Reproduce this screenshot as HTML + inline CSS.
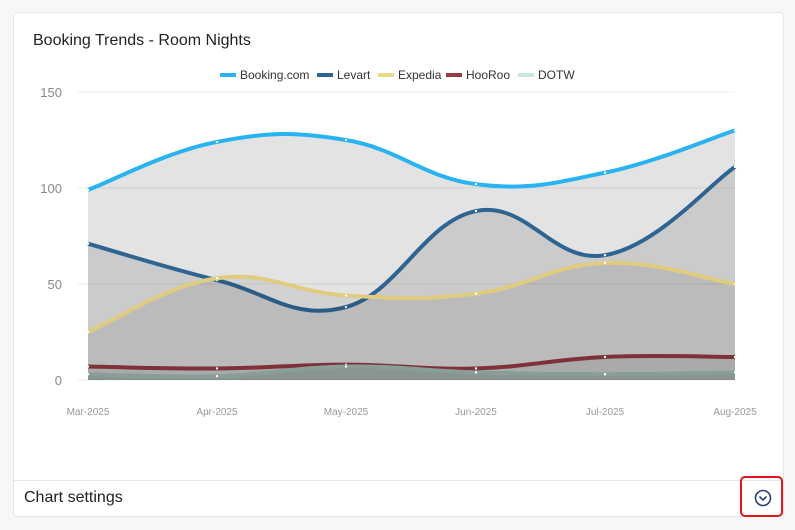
<!DOCTYPE html>
<html><head><meta charset="utf-8"><style>
body{margin:0;width:795px;height:530px;background:#f7f7f7;font-family:"Liberation Sans",sans-serif;overflow:hidden;position:relative}
.card{position:absolute;left:13px;top:12px;width:769px;height:503px;background:#fff;border:1px solid #e6e6e6;border-radius:4px}
.title{position:absolute;left:33px;top:32px;font-size:16px;color:#222}
.foot{position:absolute;left:13px;top:480px;width:771px;height:1px;background:#e6e6e6}
.cs{position:absolute;left:24px;top:489px;font-size:16px;color:#222}
.rb{position:absolute;left:740px;top:476px;width:43px;height:41px;border:2px solid #e8141b;border-radius:5px;box-sizing:border-box}
svg{position:absolute;left:0;top:0}
</style></head><body>
<div class="card"></div>
<div class="title">Booking Trends - Room Nights</div>
<div class="foot"></div>
<div class="cs">Chart settings</div>
<div class="rb"></div>
<svg width="795" height="530" id="s" font-family="Liberation Sans, sans-serif">
<g stroke="#ececec" stroke-width="1">
<line x1="78" y1="92" x2="735" y2="92"/><line x1="78" y1="188" x2="735" y2="188"/><line x1="78" y1="284" x2="735" y2="284"/><line x1="78" y1="380" x2="735" y2="380"/>
</g>
<g fill="#888" font-size="13" text-anchor="end">
<text x="62" y="97">150</text><text x="62" y="193">100</text><text x="62" y="289">50</text><text x="62" y="385">0</text>
</g>
<g fill="#999" font-size="10" text-anchor="middle">
<text x="88" y="415">Mar-2025</text><text x="217" y="415">Apr-2025</text><text x="346" y="415">May-2025</text><text x="476" y="415">Jun-2025</text><text x="605" y="415">Jul-2025</text><text x="735" y="415">Aug-2025</text>
</g>
<g font-size="12" fill="#333">
<rect x="220" y="73" width="16" height="4" fill="#29b3f0"/><text x="240" y="79">Booking.com</text>
<rect x="317" y="73" width="16" height="4" fill="#2e6491"/><text x="337" y="79">Levart</text>
<rect x="378" y="73" width="16" height="4" fill="#ecd98a"/><text x="398" y="79">Expedia</text>
<rect x="446" y="73" width="16" height="4" fill="#993a40"/><text x="466" y="79">HooRoo</text>
<rect x="518" y="73" width="16" height="4" fill="#c9e8e2"/><text x="538" y="79">DOTW</text>
</g>
<g id="series"></g>
<circle cx="763" cy="498" r="7.5" fill="none" stroke="#2a3d7a" stroke-width="1.6"/>
<path d="M759.5 496.5 L763 500 L766.5 496.5" fill="none" stroke="#2a3d7a" stroke-width="1.6"/>
</svg>
<script>
var xs=[88,217,346,476,605,735];
function Y(v){return 380-v*1.92;}
var S=[
["#29b3f0",[99,124,125,102,108,130],"rgba(0,0,0,0.11)"],
["#2e6491",[71,52,38,88,65,111],"rgba(0,0,0,0.1)"],
["#e0cc80",[25,53,44,45,61,50],"rgba(0,0,0,0.075)"],
["#7e3138",[7,6,8,6,12,12],"rgba(40,60,50,0.12)"],
["#8a9e98",[3,2,7,4,3,4],"rgba(60,100,90,0.3)"]];
var g=document.getElementById('series'),h='';
S.forEach(function(s){
 var p=xs.map(function(x,i){return [x,Y(s[1][i])];});
 var d='M'+p[0][0]+' '+p[0][1];
 for(var i=0;i<p.length-1;i++){
  var p0=p[i-1]||p[i],p1=p[i],p2=p[i+1],p3=p[i+2]||p2,t=0.4;
  var c1x=p1[0]+(p2[0]-p0[0])*t/2,c1y=p1[1]+(p2[1]-p0[1])*t/2;
  var c2x=p2[0]-(p3[0]-p1[0])*t/2,c2y=p2[1]-(p3[1]-p1[1])*t/2;
  d+=' C'+c1x+' '+c1y+' '+c2x+' '+c2y+' '+p2[0]+' '+p2[1];
 }
 h+='<path d="'+d+' L735 380 L88 380Z" fill="'+s[2]+'"/>';
 h+='<path d="'+d+'" fill="none" stroke="'+s[0]+'" stroke-width="4"/>';
 p.forEach(function(q){h+='<circle cx="'+q[0]+'" cy="'+q[1]+'" r="1.2" fill="#fff"/>';});
});
g.innerHTML=h;
</script>
</body></html>
